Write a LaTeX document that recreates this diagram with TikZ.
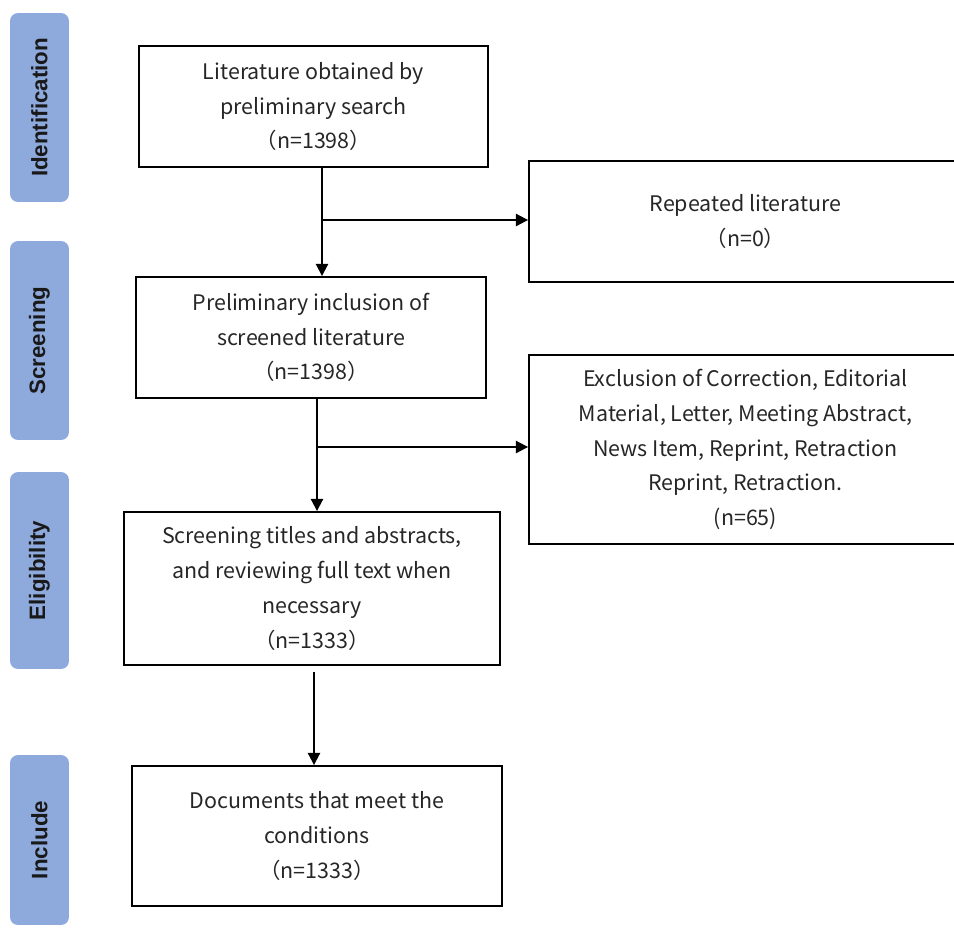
\documentclass[tikz,border=0pt]{standalone}
\usepackage{fontspec}
\setmainfont{Liberation Sans}
\newfontfamily\boxfont{Noto Sans CJK SC}
\usetikzlibrary{arrows.meta}

\definecolor{stagecol}{RGB}{142,169,219}

\begin{document}
\begin{tikzpicture}[x=0.02cm, y=-0.02cm,
    stage/.style={fill=stagecol, rounded corners=0.16cm, minimum width=1.18cm,
      inner sep=0pt, font=\fontsize{12.7}{14}\selectfont\bfseries, text=black!90},
    flowbox/.style={draw, line width=1.1pt, inner sep=0pt, align=center,
      font=\boxfont\fontsize{12.2}{19.8}\selectfont, text=black!85},
    arr/.style={line width=1.1pt, -{Triangle[length=7pt,width=7pt]}}]
  \useasboundingbox (0,0) rectangle (954,927);

  % stage bars on the left
  \node [stage, minimum height=3.78cm] (ident) at (39.5,107.5) {\rotatebox{90}{Identification}};
  \node [stage, minimum height=3.98cm] (screenbar) at (39.5,340.5) {\rotatebox{90}{Screening}};
  \node [stage, minimum height=3.94cm] (eligbar) at (39.5,570.5) {\rotatebox{90}{Eligibility}};
  \node [stage, minimum height=3.4cm] (inclbar) at (39.5,840) {\rotatebox{90}{Include}};

  % main flow
  \node [flowbox, minimum width=6.98cm, minimum height=2.42cm] (lit) at (313.5,106.5)
    {Literature obtained by\\preliminary search\\（n=1398）};
  \node [flowbox, minimum width=7.0cm, minimum height=2.42cm] (prelim) at (311,337.5)
    {Preliminary inclusion of\\screened literature\\（n=1398）};
  \node [flowbox, minimum width=7.52cm, minimum height=3.06cm] (screen) at (312,588.5)
    {Screening titles and abstracts,\\and reviewing full text when\\necessary\\（n=1333）};
  \node [flowbox, minimum width=7.4cm, minimum height=2.8cm] (docs) at (317,836)
    {Documents that meet the\\conditions\\（n=1333）};

  % excluded records
  \node [flowbox, minimum width=8.66cm, minimum height=2.42cm] (rep) at (745.5,221.5)
    {Repeated literature\\（n=0）};
  \node [flowbox, minimum width=8.66cm, minimum height=3.78cm] (excl) at (745.5,449.5)
    {Exclusion of Correction, Editorial\\Material, Letter, Meeting Abstract,\\News Item, Reprint, Retraction\\Reprint, Retraction.\\(n=65)};

  \coordinate (j1) at (322,220);
  \coordinate (j2) at (317,447);
  \coordinate (j3) at (314,700);

  \draw [arr] (lit.south -| j1) -- (prelim.north -| j1);
  \draw [arr] (j1) -- (rep.west |- j1);
  \draw [arr] (prelim.south -| j2) -- (screen.north -| j2);
  \draw [arr] (j2) -- (excl.west |- j2);
  \draw [arr, shorten <=0.13cm] (screen.south -| j3) -- (docs.north -| j3);
\end{tikzpicture}
\end{document}
